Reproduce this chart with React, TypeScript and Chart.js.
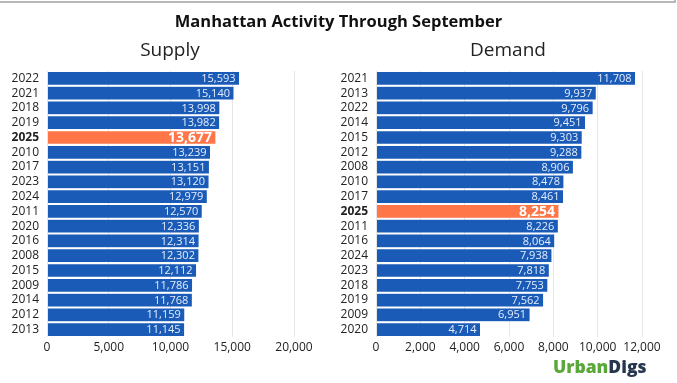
import React, { useEffect, useRef } from "react";
import { Chart, registerables } from "chart.js";

Chart.register(...registerables);

const supplyYears = ["2022", "2021", "2018", "2019", "2025", "2010", "2017", "2023", "2024", "2011", "2020", "2016", "2008", "2015", "2009", "2014", "2012", "2013"];
const supplyValues = [15593, 15140, 13998, 13982, 13677, 13239, 13151, 13120, 12979, 12570, 12336, 12314, 12302, 12112, 11786, 11768, 11159, 11145];

const demandYears = ["2021", "2013", "2022", "2014", "2015", "2012", "2008", "2010", "2017", "2025", "2011", "2016", "2024", "2023", "2018", "2019", "2009", "2020"];
const demandValues = [11708, 9937, 9796, 9451, 9303, 9288, 8906, 8478, 8461, 8254, 8226, 8064, 7938, 7818, 7753, 7562, 6951, 4714];

const HIGHLIGHT = "2025";
const BLUE = "#1a5bb8";
const ORANGE = "#ff7648";
const FONT = "'Open Sans', sans-serif";

const labelPlugin = {
  id: "barLabels",
  afterDatasetsDraw(chart: any) {
    const ctx = chart.ctx;
    const meta = chart.getDatasetMeta(0);
    const labels = chart.data.labels as string[];
    const data = chart.data.datasets[0].data as number[];
    ctx.save();
    ctx.textAlign = "right";
    ctx.textBaseline = "middle";
    meta.data.forEach((bar: any, i: number) => {
      const hl = labels[i] === HIGHLIGHT;
      ctx.font = hl ? `bold 14px ${FONT}` : `11px ${FONT}`;
      ctx.fillStyle = hl ? "#ffffff" : "#e6eefb";
      ctx.fillText(data[i].toLocaleString("en-US"), bar.x - 4, bar.y + 0.5);
    });
    ctx.restore();
  },
};

function makeChart(
  canvas: HTMLCanvasElement,
  labels: string[],
  values: number[],
  max: number,
  step: number,
  yWidth: number,
  padRight: number
) {
  return new Chart(canvas, {
    type: "bar",
    data: {
      labels,
      datasets: [
        {
          data: values,
          backgroundColor: labels.map((l) => (l === HIGHLIGHT ? ORANGE : BLUE)),
          borderColor: "rgba(255,255,255,0.25)",
          borderWidth: 0.5,
          borderSkipped: false,
          barPercentage: 0.93,
          categoryPercentage: 1,
        },
      ],
    },
    options: {
      indexAxis: "y",
      animation: false,
      responsive: false,
      maintainAspectRatio: false,
      layout: { padding: { top: 71, bottom: 0, left: 0, right: padRight } },
      plugins: { legend: { display: false }, tooltip: { enabled: false }, title: { display: false } },
      scales: {
        x: {
          min: 0,
          max,
          ticks: {
            stepSize: step,
            padding: 3,
            autoSkip: false,
            maxRotation: 0,
            minRotation: 0,
            color: "#222",
            font: { family: FONT, size: 12 },
            callback: (v: any) => Number(v).toLocaleString("en-US"),
          },
          grid: { color: "#e6e6e6", drawTicks: false },
          border: { display: false },
          afterFit: (s: any) => {
            s.height = 46;
          },
        },
        y: {
          ticks: {
            padding: 8,
            autoSkip: false,
            color: "#222",
            font: (c: any) => {
              const lbl = labels[c.index];
              return lbl === HIGHLIGHT
                ? { family: FONT, size: 12, weight: "bold" }
                : { family: FONT, size: 12 };
            },
          },
          grid: { display: false, drawTicks: false },
          border: { display: false },
          afterFit: (s: any) => {
            s.width = yWidth;
          },
        },
      },
    },
    plugins: [labelPlugin],
  } as any);
}

export default function App() {
  const leftRef = useRef<HTMLCanvasElement>(null);
  const rightRef = useRef<HTMLCanvasElement>(null);

  useEffect(() => {
    document.body.style.margin = "0";
    const a = makeChart(leftRef.current!, supplyYears, supplyValues, 20000, 5000, 47, 36);
    const b = makeChart(rightRef.current!, demandYears, demandValues, 12000, 2000, 38, 35);
    return () => {
      a.destroy();
      b.destroy();
    };
  }, []);

  return (
    <div style={{ position: "relative", width: 677, height: 383, background: "#fff", overflow: "hidden", fontFamily: FONT }}>
      <div style={{ position: "absolute", left: 0, top: 1, width: 676, height: 2, background: "#b8b8b8" }} />
      <div style={{ position: "absolute", left: 674, top: 0, width: 2, height: 3, background: "#b8b8b8" }} />
      <canvas ref={leftRef} width={330} height={383} style={{ position: "absolute", left: 0, top: 0 }} />
      <canvas ref={rightRef} width={339} height={383} style={{ position: "absolute", left: 338, top: 0 }} />
      <div style={{ position: "absolute", left: 0, width: 677, top: 9, textAlign: "center", fontWeight: 700, fontSize: 16.5, color: "#111" }}>
        Manhattan Activity Through September
      </div>
      <div style={{ position: "absolute", left: 70, width: 200, top: 36, textAlign: "center", fontSize: 19, color: "#222" }}>Supply</div>
      <div style={{ position: "absolute", left: 408, width: 200, top: 36, textAlign: "center", fontSize: 19, color: "#222" }}>Demand</div>
      <div style={{ position: "absolute", left: 553, top: 354, fontWeight: 800, fontSize: 17.5, letterSpacing: 0 }}>
        <span style={{ color: "#5aa83a" }}>Urban</span>
        <span style={{ color: "#26364d" }}>Digs</span>
      </div>
    </div>
  );
}
